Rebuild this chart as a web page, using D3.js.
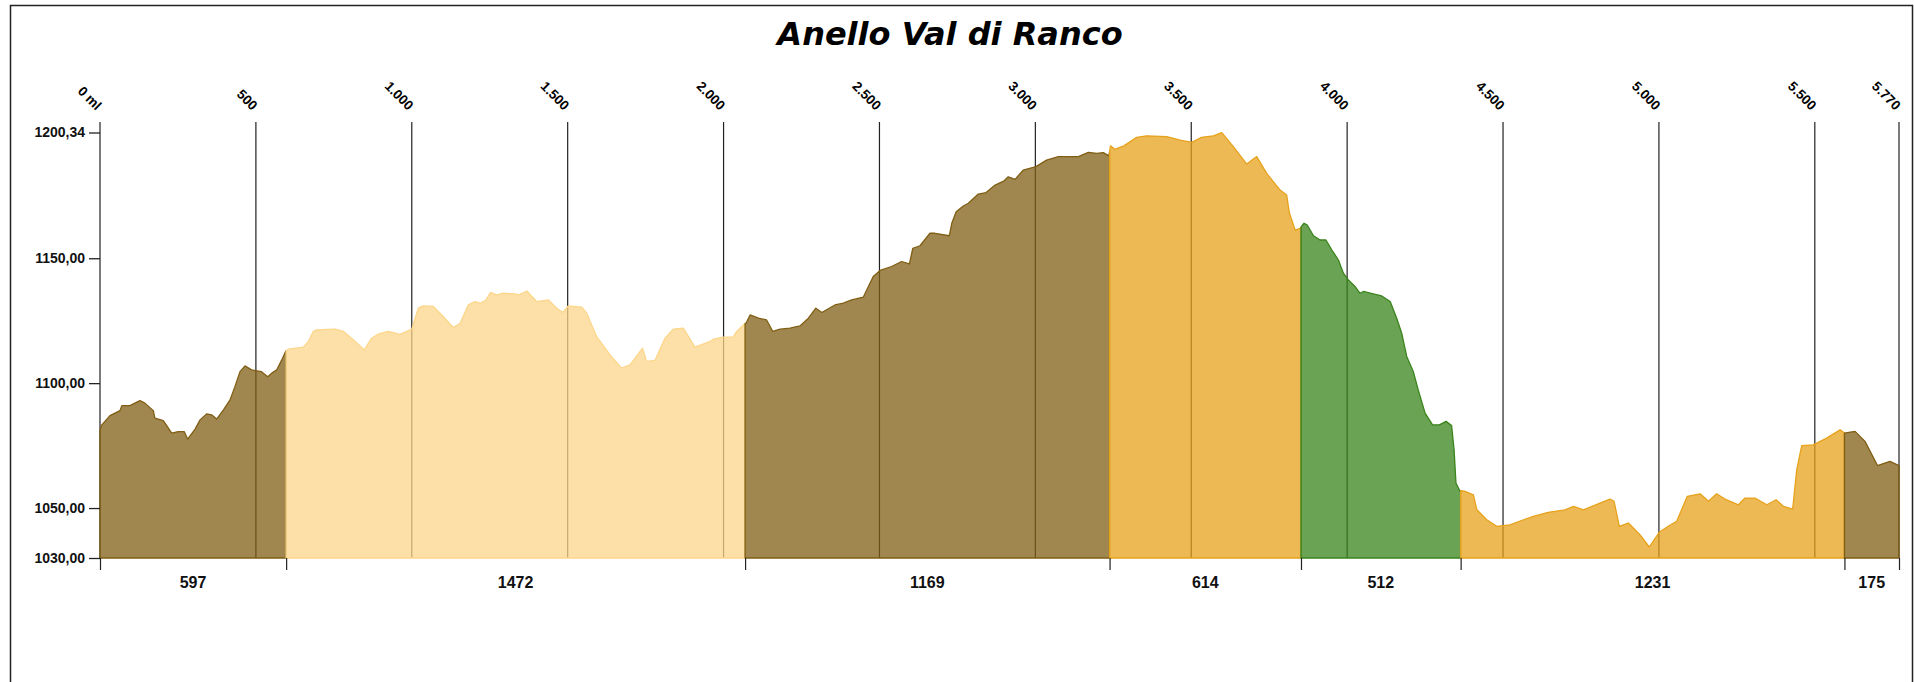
<!DOCTYPE html>
<html>
<head>
<meta charset="utf-8">
<script src="https://cdn.jsdelivr.net/npm/d3@7"></script>
<style>
  html, body { margin: 0; padding: 0; background: #fff; }
  svg { display: block; }
</style>
</head>
<body>
<svg id="chart" width="1914" height="682"></svg>
<script>
// ---------- DATA ----------
const chartTitle = "Anello Val di Ranco";

// profile distances (m) and elevations (m)
const profileDistance = [
  0,4,32,64,70,96,128,144,171,176,203,214,230,251,270,281,305,321,342,358,374,396,417,433,449,465,486,518,538,551,567,583,596,
  604,652,668,684,695,754,781,813,848,871,893,925,962,1000,1021,1037,1069,1096,1133,1155,1181,1203,1219,1238,1253,1272,1294,1331,1342,1369,1401,1438,1465,1484,1502,1545,1561,1593,1636,1673,1700,1740,1753,1780,1812,1839,1871,1908,1957,1967,1999,2031,2042,2066,
  2072,2085,2112,2138,2158,2181,2213,2245,2272,2296,2315,2357,2384,2411,2448,2480,2502,2539,2571,2596,2607,2630,2662,2678,2724,2732,2746,2769,2785,2817,2842,2871,2900,2913,2935,2961,3002,3036,3074,3138,3170,3197,3218,3236,
  3241,3255,3271,3284,3325,3357,3421,3464,3502,3533,3571,3598,3635,3678,3710,3742,3785,3806,3815,3833,3850,
  3855,3862,3872,3892,3913,3932,3951,3972,3988,4004,4025,4041,4052,4084,4111,4138,4159,4175,4191,4212,4228,4250,4274,4296,4317,4335,4343,4349,4362,
  4366,4378,4405,4416,4448,4480,4522,4597,4645,4699,4726,4758,4811,4843,4856,4873,4902,4939,4969,5001,5030,5057,5091,5132,5159,5185,5212,5255,5276,5308,5346,5376,5399,5429,5442,5458,5495,5538,5581,5595,
  5629,5661,5701,5741,5770
];
const profileElevation = [
  1081,1083,1087,1089,1091,1091,1093,1092,1089,1086,1085,1083,1080,1080.6,1080.6,1077.6,1081.6,1085.3,1087.7,1087.3,1085.6,1089.3,1093.3,1098.7,1104.6,1106.9,1105.3,1104.6,1102.6,1104,1105.3,1109.3,1112.9,
  1113.6,1114.4,1116.6,1120.7,1121.3,1121.6,1120.7,1117.3,1113.3,1118,1119.7,1120.7,1119.5,1121.6,1130,1130.9,1130.7,1127.3,1122.3,1124,1131.3,1132.6,1132,1133.3,1136.3,1135.3,1136,1135.7,1135.3,1136.9,1132.6,1133.3,1130,1128.3,1130.9,1130.4,1128,1118.6,1111.3,1106,1107.3,1114,1108.7,1109.1,1118,1121.6,1122,1114.4,1116.7,1117.6,1118.4,1118.4,1120.7,1123.6,
  1124,1127.3,1126,1125.3,1120.7,1121.6,1122,1122.9,1126,1130,1128.3,1131.3,1132,1133.3,1134.4,1142.7,1145.1,1146.7,1148.7,1147.7,1154,1155,1160,1160,1159,1164,1168.6,1170.9,1172,1175.7,1176.3,1179.3,1181,1182.6,1181.6,1185.3,1186.7,1189.3,1190.7,1190.7,1192.4,1192,1192.3,1191,
  1195,1193.6,1194.4,1195,1198.4,1199,1198.7,1197.3,1196.4,1198.4,1199,1200.3,1194.7,1187.7,1190.7,1184,1177.3,1175.3,1168,1161.3,1162,
  1163,1164,1163.3,1159,1157.3,1157.3,1153.3,1149.3,1144,1141.3,1138.7,1136,1136.7,1135.7,1134.9,1132.7,1126,1120,1110.7,1104.7,1097.3,1088,1083.3,1083.3,1084.7,1083,1073.3,1060,1056.7,
  1057,1056.7,1055.3,1049.3,1045.3,1042.7,1043.3,1046.7,1048.3,1049.3,1050.7,1049.3,1052,1053.6,1052.7,1042.7,1044,1039.3,1034.4,1040.3,1042.7,1044.7,1054.7,1055.7,1052.7,1055.7,1053.6,1051.3,1054,1054,1051.3,1053.3,1050.7,1049.6,1065.3,1075,1075.3,1078,1081.3,1080,
  1080.7,1076.7,1067,1068.7,1067
];

// route sections: length (m) and surface class
const segmentLengths = [597, 1472, 1169, 614, 512, 1231, 175];
const segmentClasses = ["A", "B", "A", "C", "D", "C", "A"];

// axis ticks
const distanceTicks = [0, 500, 1000, 1500, 2000, 2500, 3000, 3500, 4000, 4500, 5000, 5500, 5770];
const distanceTickLabels = ["0 ml", "500", "1.000", "1.500", "2.000", "2.500", "3.000", "3.500", "4.000", "4.500", "5.000", "5.500", "5.770"];
const elevationTicks = [1030, 1050, 1100, 1150, 1200.34];
const elevationMin = 1030, elevationMax = 1200.34, totalDistance = 5770;

// ---------- STYLE ----------
const classColors = { A: "#805E14", B: "#FCD68A", C: "#E7A21C", D: "#3A841C" };
const fillOpacity = 0.75;

// ---------- DRAW ----------
const svg = d3.select("#chart");

svg.append("rect")
  .attr("x", 10.5).attr("y", 5.5).attr("width", 1902).attr("height", 700)
  .attr("fill", "#fff").attr("stroke", "#222").attr("stroke-width", 1.5);

const x = d3.scaleLinear().domain([0, totalDistance]).range([100, 1899]);
const y = d3.scaleLinear().domain([elevationMin, elevationMax]).range([558, 132.5]);
const gridTop = 122;

svg.append("text")
  .attr("x", 950).attr("y", 45)
  .attr("text-anchor", "middle")
  .attr("font-family", "DejaVu Sans")
  .attr("font-weight", "bold").attr("font-style", "italic")
  .attr("font-size", 32).attr("fill", "#000")
  .text(chartTitle);

// vertical grid lines
svg.append("g").selectAll("line").data(distanceTicks).join("line")
  .attr("x1", d => x(d)).attr("x2", d => x(d))
  .attr("y1", gridTop).attr("y2", y(elevationMin))
  .attr("stroke", "#222").attr("stroke-width", 1.2);

// top labels (rotated)
svg.append("g").selectAll("text").data(distanceTicks).join("text")
  .attr("transform", d => `translate(${x(d) - 4},${gridTop - 11}) rotate(45)`)
  .attr("text-anchor", "end")
  .attr("font-family", "Liberation Sans, Arial, sans-serif")
  .attr("font-weight", "bold").attr("font-size", 13.5).attr("fill", "#000")
  .text((d, i) => distanceTickLabels[i]);

// segments
const bounds = [0];
segmentLengths.forEach(l => bounds.push(bounds[bounds.length - 1] + l));
const profile = profileDistance.map((d, i) => ({ d, e: profileElevation[i] }));
const bis = d3.bisector(p => p.d).left;
function elevAt(dist) {
  const i = bis(profile, dist);
  if (i <= 0) return profile[0].e;
  if (i >= profile.length) return profile[profile.length - 1].e;
  const a = profile[i - 1], b = profile[i];
  return a.e + (b.e - a.e) * (dist - a.d) / (b.d - a.d);
}
const area = d3.area().x(p => x(p.d)).y0(y(elevationMin)).y1(p => y(p.e));

const segG = svg.append("g");
segmentLengths.forEach((len, i) => {
  const s = bounds[i], e = bounds[i + 1];
  const pts = [{ d: s, e: elevAt(s) }]
    .concat(profile.filter(p => p.d > s && p.d < e))
    .concat([{ d: e, e: elevAt(e) }]);
  const col = classColors[segmentClasses[i]];
  segG.append("path")
    .datum(pts)
    .attr("d", d => area(d))
    .attr("fill", col).attr("fill-opacity", fillOpacity)
    .attr("stroke", col).attr("stroke-width", 1.3).attr("stroke-linejoin", "round");
});

// y axis
const yAxis = d3.axisLeft(y).tickValues(elevationTicks).tickSize(11).tickPadding(4)
  .tickFormat(d => d3.format(".2f")(d).replace(".", ","));
const yg = svg.append("g").attr("transform", "translate(100,0)").call(yAxis);
yg.select(".domain").remove();
yg.selectAll(".tick line").attr("stroke", "#222").attr("stroke-width", 1.3);
yg.selectAll(".tick text")
  .attr("font-family", "Liberation Sans, Arial, sans-serif")
  .attr("font-weight", "bold").attr("font-size", 14).attr("fill", "#111");

// bottom section ticks
const bAxis = d3.axisBottom(x).tickValues(bounds).tickSize(12).tickFormat("");
const bg = svg.append("g").attr("transform", `translate(0,${y(elevationMin)})`).call(bAxis);
bg.select(".domain").remove();
bg.selectAll(".tick line").attr("stroke", "#222").attr("stroke-width", 1.2);

// section length labels
svg.append("g").selectAll("text").data(segmentLengths).join("text")
  .attr("x", (d, i) => x((bounds[i] + bounds[i + 1]) / 2))
  .attr("y", 588)
  .attr("text-anchor", "middle")
  .attr("font-family", "Liberation Sans, Arial, sans-serif")
  .attr("font-weight", "bold").attr("font-size", 16).attr("fill", "#111")
  .text(d => d);
</script>
</body>
</html>
